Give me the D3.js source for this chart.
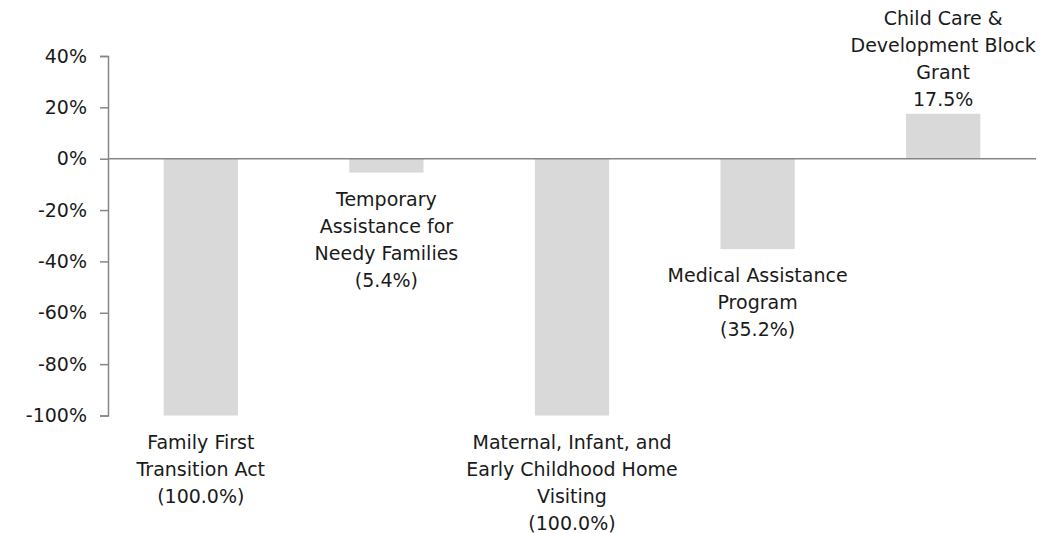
<!DOCTYPE html>
<html lang="en">
<head>
    <meta charset="UTF-8" />
    <title>Funding change by program</title>
    <script src="https://d3js.org/d3.v7.min.js"></script>
    <style>
        body { margin: 0; background: #fff; }
        text { font-family: "DejaVu Sans", sans-serif; fill: #1a1a1a; }
    </style>
</head>
<body>
    <script>
        // programs and their % change
        var programs = ["Family First Transition Act", "Temporary Assistance for Needy Families",
            "Maternal, Infant, and Early Childhood Home Visiting", "Medical Assistance Program",
            "Child Care & Development Block Grant"];
        var changes = [-100, -5.4, -100, -35.2, 17.5];
        // label lines as they are wrapped in the picture
        var labelLines = [
            ["Family First", "Transition Act"],
            ["Temporary", "Assistance for", "Needy Families"],
            ["Maternal, Infant, and", "Early Childhood Home", "Visiting"],
            ["Medical Assistance", "Program"],
            ["Child Care &", "Development Block", "Grant"]
        ];
        var yTicks = [40, 20, 0, -20, -40, -60, -80, -100];

        var w = 1056;
        var h = 533;
        var plotLeft = 108, plotRight = 1036, plotTop = 56, plotBottom = 415.5;
        var lineH = 27;

        var svg = d3.select("body")
            .append("svg")
            .attr("width", w)
            .attr("height", h);

        var xScale = d3.scaleBand()
            .domain(programs)
            .range([plotLeft, plotRight])
            .paddingInner(0.6)
            .paddingOuter(0.3);

        var yScale = d3.scaleLinear()
            .domain([-100, 40])
            .range([plotBottom, plotTop]);

        // bars
        svg.selectAll("rect.bar")
            .data(programs)
            .enter()
            .append("rect")
            .attr("class", "bar")
            .attr("x", function (d) { return xScale(d); })
            .attr("width", xScale.bandwidth())
            .attr("y", function (d, i) { return yScale(Math.max(0, changes[i])); })
            .attr("height", function (d, i) { return Math.abs(yScale(changes[i]) - yScale(0)); })
            .attr("fill", "#d9d9d9");

        // y axis
        var yAxis = d3.axisLeft(yScale)
            .tickValues(yTicks)
            .tickSize(8)
            .tickPadding(13)
            .tickFormat(function (d) { return d + "%"; });

        var gy = svg.append("g")
            .attr("transform", "translate(" + plotLeft + ",0)")
            .call(yAxis);
        gy.select(".domain").attr("stroke", "#868686").attr("stroke-width", 1.5);
        gy.selectAll(".tick line").attr("stroke", "#868686").attr("stroke-width", 1.5);
        gy.selectAll(".tick text")
            .style("font-family", "'DejaVu Sans', sans-serif")
            .style("font-size", "19px")
            .attr("fill", "#1a1a1a");

        // zero line
        svg.append("line")
            .attr("x1", plotLeft).attr("x2", plotRight)
            .attr("y1", yScale(0)).attr("y2", yScale(0))
            .attr("stroke", "#868686")
            .attr("stroke-width", 1.5);

        // data labels
        programs.forEach(function (p, i) {
            var v = changes[i];
            var lines = labelLines[i].slice();
            lines.push(v < 0 ? "(" + Math.abs(v).toFixed(1) + "%)" : v.toFixed(1) + "%");
            var cx = xScale(p) + xScale.bandwidth() / 2;
            var y0;
            if (v < 0) {
                y0 = yScale(v) + 33;
            } else {
                y0 = yScale(v) - 8 - (lines.length - 1) * lineH;
            }
            var t = svg.append("text")
                .attr("text-anchor", "middle")
                .style("font-size", "19px");
            lines.forEach(function (l, j) {
                t.append("tspan")
                    .attr("x", cx)
                    .attr("y", y0 + j * lineH)
                    .text(l);
            });
        });
    </script>
</body>
</html>
